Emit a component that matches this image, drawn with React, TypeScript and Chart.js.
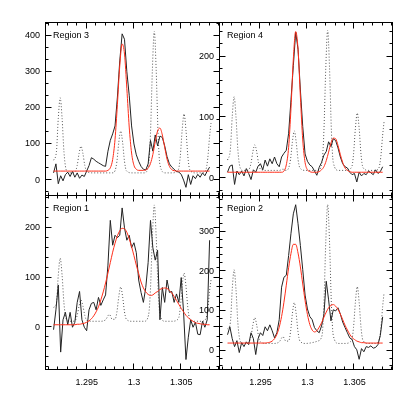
import React, { useEffect, useRef } from 'react';
import { Chart, registerables } from 'chart.js';

Chart.register(...registerables);

// ---------- shared x data ----------
const WAVELENGTH = [
  1.2915, 1.29175, 1.292, 1.29225, 1.2925, 1.29275, 1.293, 1.29325, 1.2935, 1.29375,
  1.294, 1.29425, 1.2945, 1.29475, 1.295, 1.29525, 1.2955, 1.29575, 1.296, 1.29625,
  1.2965, 1.29675, 1.297, 1.29725, 1.2975, 1.29775, 1.298, 1.29825, 1.2985, 1.29875,
  1.299, 1.29925, 1.2995, 1.29975, 1.3, 1.30025, 1.3005, 1.30075, 1.301, 1.30125,
  1.3015, 1.30175, 1.302, 1.30225, 1.3025, 1.30275, 1.303, 1.30325, 1.3035, 1.30375,
  1.304, 1.30425, 1.3045, 1.30475, 1.305, 1.30525, 1.3055, 1.30575, 1.306, 1.30625,
  1.3065, 1.30675, 1.307, 1.30725, 1.3075, 1.30775, 1.308,
];

const REF_WAVELENGTH = [
  1.2915, 1.2918, 1.292, 1.2922, 1.2924, 1.2926, 1.2928, 1.2931, 1.2935,
  1.2938, 1.294, 1.2942, 1.2944, 1.2946, 1.2948, 1.295, 1.2956, 1.2964,
  1.297, 1.2974, 1.2977, 1.298, 1.2982, 1.2984, 1.2986, 1.2988, 1.299, 1.2992,
  1.2998, 1.3005, 1.3011, 1.30155, 1.30175, 1.30195, 1.30215, 1.30235, 1.30255,
  1.30275, 1.3033, 1.304, 1.3047, 1.3049, 1.3051, 1.3053, 1.3055, 1.3057, 1.3059,
  1.3065, 1.3072, 1.3076, 1.3078, 1.308, 1.30815,
];

const X_RANGE = [1.2907, 1.3091];
const X_MAJOR_TICKS = [1.295, 1.3, 1.305];
const X_TICK_LABELS = ['1.295', '1.3', '1.305'];
const X_MINOR_TICKS = [1.291, 1.292, 1.293, 1.294, 1.296, 1.297, 1.298, 1.299, 1.301, 1.302, 1.303, 1.304, 1.306, 1.307, 1.308, 1.309];

// ---------- Region 3 (top-left) ----------
const R3_OBS = [
  20, 45, -10, 12, -2, 15, 22, 10, 24, 8,
  20, 5, 14, 10, 25, 40, 62, 58, 52, 48,
  44, 40, 38, 80, 110, 128, 150, 230, 330, 405,
  390, 300, 235, 150, 100, 70, 52, 38, 30, 28,
  45, 110, 80, 125, 95, 122, 118, 95, 65, 45,
  36, 30, 24, 22, 16, 0, -20, 15, -12, 12,
  4, 16, 8, 20, 12, 25, 36,
];
const R3_FIT = [
  25, 25, 25, 25, 25, 25, 25, 25, 25, 25,
  25, 25, 25, 25, 25, 25, 25, 25, 25, 25,
  25, 25, 25, 27, 34, 57, 113, 209, 316, 377,
  349, 253, 147, 75, 41, 30, 27, 27, 27, 28,
  33, 46, 71, 106, 136, 144, 125, 91, 58, 38,
  29, 26, 25, 25, 25, 25, 25, 25, 25, 25,
  25, 25, 25, 25, 25, 25, 25,
];
const R3_REF = [
  55, 78, 172, 228, 172, 78, 32, 20, 20,
  24, 41, 74, 94, 74, 41, 24, 20, 20,
  20, 20, 20, 26, 52, 105, 136, 105, 52, 26,
  20, 20, 20, 42, 130, 306, 412, 306, 130,
  42, 20, 20, 29, 66, 139, 183, 139, 66, 29,
  20, 20, 28, 59, 121, 158,
];
const R3_Y_RANGE = [-44, 435];
const R3_Y_MAJOR = [0, 100, 200, 300, 400];
const R3_Y_LABELS = ['0', '100', '200', '300', '400'];
const R3_Y_MINOR = [-33.3, 33.3, 66.7, 133.3, 166.7, 233.3, 266.7, 333.3, 366.7, 433.3];

// ---------- Region 4 (top-right) ----------
const R4_OBS = [
  10, 20, 22, -10, 12, 6, 12, 4, 16, 8,
  -2, 14, 10, 20, 24, 14, 30, 20, 32, 24,
  35, 24, 19, 35, 41, 46, 74, 129, 185, 240,
  212, 145, 85, 40, 28, 22, 19, 12, 5, 18,
  26, 38, 44, 60, 52, 65, 62, 50, 35, 24,
  19, 17, 10, 6, 8, -6, 10, 4, 8, 6,
  12, 9, 6, 14, 8, 11, 19,
];
const R4_FIT = [
  10, 10, 10, 10, 10, 10, 10, 10, 10, 10,
  10, 10, 10, 10, 10, 10, 10, 10, 10, 10,
  10, 10, 10, 10, 12, 22, 51, 115, 196, 241,
  212, 134, 63, 26, 14, 11, 10, 10, 10, 11,
  14, 19, 29, 43, 58, 66, 65, 54, 39, 26,
  17, 13, 11, 10, 10, 10, 10, 10, 10, 10,
  10, 10, 10, 10, 10, 10, 10,
];
const R4_REF = [
  30, 47, 101, 134, 101, 47, 20, 13, 13,
  15, 25, 44, 55, 44, 25, 15, 13, 13,
  13, 15, 13, 17, 31, 60, 78, 60, 31, 17,
  13, 13, 13, 26, 77, 181, 243, 181, 77,
  26, 13, 13, 18, 39, 82, 107, 82, 39, 18,
  13, 13, 17, 35, 71, 93,
];
const R4_Y_RANGE = [-29, 255];
const R4_Y_MAJOR = [0, 100, 200];
const R4_Y_LABELS = ['0', '100', '200'];
const R4_Y_MINOR = [-20, 20, 40, 60, 80, 120, 140, 160, 180, 220, 240];

// ---------- Region 1 (bottom-left) ----------
const R1_OBS = [
  -5, 35, 85, -50, 15, 30, 5, 30, 0, 10,
  50, 72, 15, 0, -7, 35, 48, 50, 35, 60,
  44, 55, 65, 125, 215, 165, 185, 180, 185, 240,
  200, 175, 185, 160, 170, 150, 95, 70, 50, 80,
  130, 215, 160, 135, 155, 15, 80, 50, 95, 70,
  72, 50, 67, 50, 100, 30, -65, -20, 15, 0,
  10, -14, -15, 12, 0, 15, 175,
];
const R1_FIT = [
  5, 5, 5, 5, 5, 5, 5, 5, 5, 5,
  6, 6, 7, 8, 10, 13, 17, 23, 31, 41,
  55, 71, 89, 109, 130, 151, 169, 184, 194, 199,
  198, 191, 178, 162, 144, 125, 108, 91, 79, 71,
  66, 64, 65, 69, 72, 76, 78, 79, 78, 74,
  69, 62, 54, 46, 38, 31, 24, 19, 15, 12,
  9, 8, 7, 6, 6, 5, 5,
];
const R1_REF = [
  40, 48, 105, 139, 105, 48, 19, 12, 12,
  14, 24, 43, 55, 43, 24, 14, 12, 12,
  15, 26, 16, 16, 31, 62, 81, 62, 31, 16,
  12, 12, 12, 25, 78, 183, 246, 183, 78,
  25, 12, 12, 17, 39, 83, 109, 83, 39, 17,
  12, 12, 17, 35, 73, 95,
];
const R1_Y_RANGE = [-86, 264];
const R1_Y_MAJOR = [0, 100, 200];
const R1_Y_LABELS = ['0', '100', '200'];
const R1_Y_MINOR = [-80, -60, -40, -20, 20, 40, 60, 80, 120, 140, 160, 180, 220, 240, 260];

// ---------- Region 2 (bottom-right) ----------
const R2_OBS = [
  40, 60, 30, 10, 25, -5, 20, 10, 22, 15,
  45, 30, -10, 30, 45, 38, 60, 50, 65, 50,
  32, 45, 78, 160, 185, 190, 240, 296, 345, 368,
  320, 265, 204, 140, 105, 86, 78, 58, 50, 45,
  62, 90, 175, 128, 75, 103, 100, 108, 92, 72,
  58, 45, 32, 28, 10, 2, -22, 5, -3, 10,
  8, 12, 6, 8, 15, 38, 85,
];
const R2_FIT = [
  19, 19, 19, 19, 19, 19, 19, 19, 19, 19,
  19, 19, 19, 19, 19, 19, 19, 20, 21, 24,
  30, 41, 59, 86, 122, 165, 209, 245, 268, 268,
  246, 211, 168, 126, 91, 66, 52, 47, 50, 59,
  70, 84, 97, 108, 114, 116, 112, 104, 92, 78,
  64, 52, 41, 33, 28, 24, 22, 20, 20, 19,
  19, 19, 19, 19, 19, 19, 19,
];
const R2_REF = [
  55, 70, 154, 204, 154, 70, 28, 18, 18,
  22, 36, 65, 83, 65, 36, 22, 18, 18,
  22, 35, 24, 24, 47, 93, 121, 93, 47, 24,
  18, 20, 24, 38, 116, 274, 368, 274, 116,
  38, 18, 18, 26, 58, 122, 161, 122, 58, 26,
  18, 18, 25, 54, 111, 146,
];
const R2_Y_RANGE = [-49, 390];
const R2_Y_MAJOR = [0, 100, 200, 300];
const R2_Y_LABELS = ['0', '100', '200', '300'];
const R2_Y_MINOR = [-40, -20, 20, 40, 60, 80, 120, 140, 160, 180, 220, 240, 260, 280, 320, 340, 360, 380];

const FONT_FAMILY = '"Liberation Sans", Arial, Helvetica, sans-serif';
const Y_AXIS_BOX = 40;
const X_AXIS_BOX = 40;

const framePlugin = {
  id: 'panelFrame',
  afterDatasetsDraw(chart: any, _args: any, opts: any) {
    const { ctx, chartArea } = chart;
    const xs = chart.scales.x;
    const ys = chart.scales.y;
    const L = Math.round(chartArea.left) - 0.5;
    const R = Math.round(chartArea.right) - 0.5;
    const T = Math.round(chartArea.top) - 0.5;
    const B = Math.round(chartArea.bottom) - 0.5;
    ctx.save();
    ctx.setLineDash([]);
    ctx.strokeStyle = '#000';
    ctx.lineWidth = 1;
    ctx.strokeRect(L, T, R - L, B - T);
    ctx.beginPath();
    const xTick = (v: number, len: number) => {
      const px = Math.round(xs.getPixelForValue(v)) - 0.5;
      ctx.moveTo(px, B);
      ctx.lineTo(px, B - len);
      ctx.moveTo(px, T);
      ctx.lineTo(px, T + len);
    };
    const yTick = (v: number, len: number) => {
      const py = Math.round(ys.getPixelForValue(v)) - 0.5;
      ctx.moveTo(L, py);
      ctx.lineTo(L + len, py);
      ctx.moveTo(R, py);
      ctx.lineTo(R - len, py);
    };
    (opts.xMajor as number[]).forEach((v) => xTick(v, 6));
    (opts.xMinor as number[]).forEach((v) => xTick(v, 3));
    (opts.yMajor as number[]).forEach((v) => yTick(v, 6));
    (opts.yMinor as number[]).forEach((v) => yTick(v, 3));
    ctx.stroke();
    ctx.fillStyle = '#000';
    ctx.font = `9px ${FONT_FAMILY}`;
    ctx.textBaseline = 'alphabetic';
    ctx.textAlign = 'left';
    ctx.fillText(opts.title, chartArea.left + 7, chartArea.top + 15);
    ctx.restore();
  },
};

type PanelProps = {
  title: string;
  obs: number[];
  fit: number[];
  refLine: number[];
  yRange: number[];
  yMajor: number[];
  yLabels: string[];
  yMinor: number[];
  area: { left: number; top: number; right: number; bottom: number };
  showX: boolean;
};

function Panel(p: PanelProps) {
  const canvasRef = useRef<HTMLCanvasElement | null>(null);
  useEffect(() => {
    const canvas = canvasRef.current;
    if (!canvas) return;
    const xBox = p.showX ? X_AXIS_BOX : 0;
    const chart = new Chart(canvas, {
      type: 'line',
      data: {
        datasets: [
          {
            label: 'fit',
            data: WAVELENGTH.map((x, i) => ({ x, y: p.fit[i] })),
            borderColor: 'rgb(255,45,25)',
            borderWidth: 1,
            pointRadius: 0,
            cubicInterpolationMode: 'monotone',
            fill: false,
          },
          {
            label: 'observed',
            data: WAVELENGTH.map((x, i) => ({ x, y: p.obs[i] })),
            borderColor: '#222',
            borderWidth: 1,
            pointRadius: 0,
            tension: 0,
            fill: false,
          },
          {
            label: 'reference',
            data: REF_WAVELENGTH.map((x, i) => ({ x, y: p.refLine[i] })),
            borderColor: '#555',
            borderWidth: 1,
            borderDash: [1, 2],
            pointRadius: 0,
            cubicInterpolationMode: 'monotone',
            fill: false,
          },
        ],
      },
      options: {
        animation: false,
        responsive: false,
        devicePixelRatio: 1,
        events: [],
        layout: {
          padding: {
            left: p.area.left - Y_AXIS_BOX,
            top: p.area.top,
            right: 415 - p.area.right,
            bottom: 415 - p.area.bottom - xBox,
          },
        },
        plugins: {
          legend: { display: false },
          tooltip: { enabled: false },
          title: { display: false },
          panelFrame: {
            xMajor: X_MAJOR_TICKS,
            xMinor: X_MINOR_TICKS,
            yMajor: p.yMajor,
            yMinor: p.yMinor,
            title: p.title,
          },
        } as any,
        scales: {
          x: {
            type: 'linear',
            min: X_RANGE[0],
            max: X_RANGE[1],
            afterFit: (s: any) => {
              s.height = xBox;
            },
            afterBuildTicks: (s: any) => {
              s.ticks = X_MAJOR_TICKS.map((v) => ({ value: v }));
            },
            grid: { display: false, drawTicks: false },
            border: { display: false },
            ticks: {
              display: p.showX,
              autoSkip: false,
              maxRotation: 0,
              minRotation: 0,
              padding: 7,
              color: '#000',
              font: { family: FONT_FAMILY, size: 9 },
              callback: (v: any) => X_TICK_LABELS[X_MAJOR_TICKS.indexOf(Number(v))] ?? '',
            },
          },
          y: {
            type: 'linear',
            min: p.yRange[0],
            max: p.yRange[1],
            afterFit: (s: any) => {
              s.width = Y_AXIS_BOX;
            },
            afterBuildTicks: (s: any) => {
              s.ticks = p.yMajor.map((v) => ({ value: v }));
            },
            grid: { display: false, drawTicks: false },
            border: { display: false },
            ticks: {
              autoSkip: false,
              padding: 6,
              color: '#000',
              font: { family: FONT_FAMILY, size: 9 },
              callback: (v: any) => p.yLabels[p.yMajor.indexOf(Number(v))] ?? '',
            },
          },
        },
      } as any,
      plugins: [framePlugin as any],
    });
    return () => chart.destroy();
  }, []);
  return (
    <canvas
      ref={canvasRef}
      width={415}
      height={415}
      style={{ position: 'absolute', left: 0, top: 0, width: 415, height: 415 }}
    />
  );
}

export default function App() {
  return (
    <div style={{ position: 'absolute', left: 0, top: 0, width: 415, height: 415, background: '#fff' }}>
      <Panel
        title="Region 3"
        obs={R3_OBS}
        fit={R3_FIT}
        refLine={R3_REF}
        yRange={R3_Y_RANGE}
        yMajor={R3_Y_MAJOR}
        yLabels={R3_Y_LABELS}
        yMinor={R3_Y_MINOR}
        area={{ left: 46, top: 23, right: 220, bottom: 196 }}
        showX={false}
      />
      <Panel
        title="Region 4"
        obs={R4_OBS}
        fit={R4_FIT}
        refLine={R4_REF}
        yRange={R4_Y_RANGE}
        yMajor={R4_Y_MAJOR}
        yLabels={R4_Y_LABELS}
        yMinor={R4_Y_MINOR}
        area={{ left: 220, top: 23, right: 393, bottom: 196 }}
        showX={false}
      />
      <Panel
        title="Region 1"
        obs={R1_OBS}
        fit={R1_FIT}
        refLine={R1_REF}
        yRange={R1_Y_RANGE}
        yMajor={R1_Y_MAJOR}
        yLabels={R1_Y_LABELS}
        yMinor={R1_Y_MINOR}
        area={{ left: 46, top: 196, right: 220, bottom: 370 }}
        showX={true}
      />
      <Panel
        title="Region 2"
        obs={R2_OBS}
        fit={R2_FIT}
        refLine={R2_REF}
        yRange={R2_Y_RANGE}
        yMajor={R2_Y_MAJOR}
        yLabels={R2_Y_LABELS}
        yMinor={R2_Y_MINOR}
        area={{ left: 220, top: 196, right: 393, bottom: 370 }}
        showX={true}
      />
    </div>
  );
}
